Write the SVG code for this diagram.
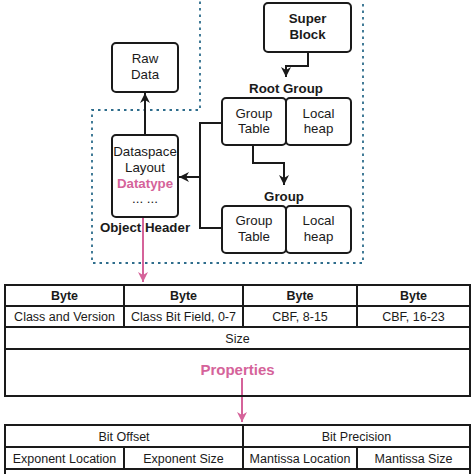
<svg xmlns="http://www.w3.org/2000/svg" width="474" height="474" viewBox="0 0 474 474">
<defs>
<style>
.box{fill:#fff;stroke:#1a1a1a;stroke-width:2}
.t{font-family:"Liberation Sans",Arial,sans-serif;font-size:13.3px;fill:#1a1a1a;text-anchor:middle}
.b{font-weight:bold}
.tb{font-family:"Liberation Sans",Arial,sans-serif;font-size:12.5px;fill:#1a1a1a;text-anchor:middle}
.pink{fill:#d5639a}
.conn{fill:none;stroke:#1a1a1a;stroke-width:2}
.pconn{fill:none;stroke:#d5639a;stroke-width:2}
.grid{fill:none;stroke:#1a1a1a;stroke-width:2}
</style>
<marker id="ah" viewBox="0 0 10 10" refX="10" refY="5" markerWidth="5" markerHeight="5" orient="auto" markerUnits="strokeWidth">
<path d="M0,0 L10,5 L0,10 L3,5 Z" fill="#1a1a1a"/>
</marker>
<marker id="ahp" viewBox="0 0 10 10" refX="10" refY="5" markerWidth="5" markerHeight="5" orient="auto" markerUnits="strokeWidth">
<path d="M0,0 L10,5 L0,10 L3,5 Z" fill="#d5639a"/>
</marker>
</defs>
<rect width="474" height="474" fill="#fff"/>

<path id="boundary" d="M200,-5 V110 H92 V263 H363 V-5" fill="none" stroke="#2e6d8c" stroke-width="1.8" stroke-dasharray="2.5,4"/>

<g id="connectors">
<path class="conn" d="M308,52 V66 H286 V77" marker-end="url(#ah)"/>
<path class="conn" d="M253,145 V163 H284 V185" marker-end="url(#ah)"/>
<path class="conn" d="M222,123 H200 V228 H222"/>
<path class="conn" d="M200,177 H179" marker-end="url(#ah)"/>
<path class="conn" d="M145,135 V93" marker-end="url(#ah)"/>
<path class="pconn" d="M143,190 V282" marker-end="url(#ahp)"/>
<path class="pconn" d="M242,378 V422" marker-end="url(#ahp)"/>
</g>

<g id="superblock">
<rect class="box" x="264" y="3" width="87" height="49" rx="4"/>
<text class="t b" x="307.5" y="22.5">Super</text>
<text class="t b" x="307.5" y="38.5">Block</text>
</g>

<g id="rawdata">
<rect class="box" x="112" y="43" width="66" height="49" rx="4"/>
<text class="t" x="145" y="62.5">Raw</text>
<text class="t" x="145" y="78.5">Data</text>
</g>

<g id="rootgroup">
<text class="t b" x="286" y="92.5">Root Group</text>
<rect class="box" x="222" y="98" width="64" height="47" rx="4"/>
<rect class="box" x="286" y="98" width="65" height="47" rx="4"/>
<text class="t" x="254" y="117.5">Group</text>
<text class="t" x="254" y="133">Table</text>
<text class="t" x="318.5" y="117.5">Local</text>
<text class="t" x="318.5" y="133">heap</text>
</g>

<g id="group">
<text class="t b" x="284" y="200.5">Group</text>
<rect class="box" x="222" y="206" width="64" height="47" rx="4"/>
<rect class="box" x="286" y="206" width="65" height="47" rx="4"/>
<text class="t" x="254" y="224.5">Group</text>
<text class="t" x="254" y="240.5">Table</text>
<text class="t" x="318.5" y="224.5">Local</text>
<text class="t" x="318.5" y="240.5">heap</text>
</g>

<g id="objectheader">
<rect class="box" x="112" y="135" width="66" height="82" rx="4"/>
<text class="t" x="145" y="155.5">Dataspace</text>
<text class="t" x="145" y="171.5">Layout</text>
<text class="t b pink" x="145" y="187.5">Datatype</text>
<text class="t" x="145" y="203">... ...</text>
<text class="t b" x="145" y="231.5">Object Header</text>
</g>

<g id="datatype-table">
<rect class="grid" x="5" y="285" width="465" height="111"/>
<path class="grid" d="M5,306 H470 M5,327 H470 M5,349 H470 M124,285 V327 M243,285 V327 M357,285 V327"/>
<text class="tb b" x="64.5" y="300">Byte</text>
<text class="tb b" x="183.5" y="300">Byte</text>
<text class="tb b" x="300" y="300">Byte</text>
<text class="tb b" x="413.5" y="300">Byte</text>
<text class="tb" x="64.5" y="321">Class and Version</text>
<text class="tb" x="183.5" y="321">Class Bit Field, 0-7</text>
<text class="tb" x="300" y="321">CBF, 8-15</text>
<text class="tb" x="413.5" y="321">CBF, 16-23</text>
<text class="tb" x="237.5" y="342.5">Size</text>
<text class="tb b pink" x="237.5" y="375" style="font-size:15px">Properties</text>
</g>

<g id="properties-table">
<path class="grid" d="M5,480 V425 H470 V480 M5,447 H470 M5,469 H470 M243,425 V469 M124,447 V469 M357,447 V469"/>
<text class="tb" x="124" y="440.5">Bit Offset</text>
<text class="tb" x="356.5" y="440.5">Bit Precision</text>
<text class="tb" x="64.5" y="462.5">Exponent Location</text>
<text class="tb" x="183.5" y="462.5">Exponent Size</text>
<text class="tb" x="300" y="462.5">Mantissa Location</text>
<text class="tb" x="413.5" y="462.5">Mantissa Size</text>
</g>
</svg>
